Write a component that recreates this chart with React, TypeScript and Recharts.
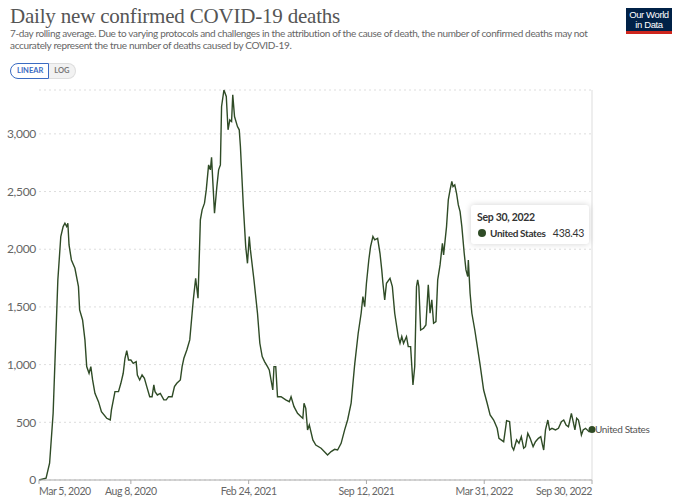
import { CartesianGrid, Line, LineChart, ReferenceDot, ReferenceLine, XAxis, YAxis } from "recharts"

// days counted from Mar 5, 2020
const dayOffsets = [
  0, 12, 18, 24, 28, 32, 37, 41, 44, 47, 49, 51, 55, 61, 67, 69, 74, 78, 81, 85, 88, 91, 95, 101, 106, 115, 121, 123,
  129, 135, 139, 143, 146, 149, 152, 156, 160, 165, 167, 171, 175, 179, 183, 188, 192, 195, 197, 201, 206, 212, 216,
  220, 226, 230, 234, 240, 243, 246, 251, 256, 260, 262, 266, 270, 272, 274, 277, 281, 284, 288, 291, 293, 295, 298,
  302, 305, 308, 310, 314, 318, 321, 324, 327, 329, 332, 337, 340, 342, 347, 351, 354, 357, 359, 365, 371, 375, 379,
  383, 388, 391, 397, 399, 402, 405, 411, 419, 425, 428, 433, 439, 445, 448, 450, 453, 456, 459, 465, 470, 479, 490,
  496, 502, 507, 513, 519, 524, 530, 536, 542, 547, 550, 553, 556, 560, 563, 567, 570, 575, 579, 582, 584, 587, 590,
  596, 600, 604, 610, 613, 616, 619, 624, 627, 631, 635, 638, 641, 643, 645, 648, 653, 657, 661, 664, 667, 670, 674,
  677, 681, 685, 687, 692, 695, 698, 701, 703, 706, 709, 712, 715, 718, 722, 725, 728, 729, 732, 735, 740, 743, 749,
  755, 761, 766, 772, 778, 781, 789, 794, 799, 803, 806, 811, 815, 819, 823, 826, 830, 834, 839, 843, 848, 852, 855,
  857, 860, 864, 867, 871, 877, 882, 887, 891, 895, 899, 904, 907, 910, 913, 916, 919, 921, 924, 928, 934, 939,
]

const usDeaths = [
  0, 15, 145, 578, 1156, 1734, 2110, 2196, 2225, 2196, 2225, 2037, 1907, 1835, 1676, 1474, 1387, 1214, 983, 925, 983,
  867, 751, 679, 592, 535, 520, 607, 766, 766, 838, 925, 1055, 1121, 1040, 1040, 1011, 1026, 910, 867, 910, 881, 809,
  722, 722, 824, 766, 737, 751, 694, 694, 722, 722, 809, 838, 867, 983, 1055, 1127, 1214, 1445, 1561, 1748, 1575, 1907,
  2254, 2341, 2399, 2514, 2731, 2688, 2797, 2601, 2312, 2543, 2688, 2731, 3237, 3380, 3324, 3035, 3121, 3107, 3338,
  3150, 3063, 3035, 2890, 2370, 2023, 1878, 2110, 1994, 1734, 1445, 1185, 1069, 1026, 983, 954, 780, 983, 983, 722,
  722, 694, 679, 722, 636, 578, 549, 535, 665, 621, 434, 477, 347, 303, 275, 217, 246, 266, 260, 318, 434, 520, 665,
  1000, 1272, 1445, 1590, 1503, 1705, 1907, 2023, 2110, 2081, 2095, 1965, 1821, 1705, 1561, 1705, 1748, 1676, 1445,
  1243, 1185, 1243, 1185, 1243, 1156, 1156, 824, 983, 1676, 1734, 1676, 1300, 1315, 1344, 1691, 1445, 1561, 1358,
  1373, 1734, 1864, 2052, 1951, 2196, 2428, 2514, 2587, 2543, 2558, 2485, 2384, 2326, 2196, 1965, 1821, 1763, 1907,
  1618, 1445, 1300, 1200, 997, 780, 665, 564, 520, 448, 361, 332, 514, 506, 289, 260, 347, 318, 376, 275, 289, 405,
  361, 289, 332, 361, 376, 303, 260, 434, 520, 434, 448, 434, 448, 506, 520, 477, 462, 578, 506, 434, 535, 520, 448,
  390, 434, 448, 419, 438.43,
]

const xTickDays = [0, 156, 356, 556, 756, 939]
const xTickLabels = ["Mar 5, 2020", "Aug 8, 2020", "Feb 24, 2021", "Sep 12, 2021", "Mar 31, 2022", "Sep 30, 2022"]
const yTicks = [0, 500, 1000, 1500, 2000, 2500, 3000]

const data = dayOffsets.map((day, i) => ({ day, deaths: usDeaths[i] }))

const lineColor = "#2f4b26"
const font = "Lato, 'Noto Sans', sans-serif"

const XTick = (props: any) => {
  const { x, y, payload, index } = props
  const last = xTickDays.length - 1
  const anchor = index === 0 ? "start" : index === last ? "end" : "middle"
  const label = xTickLabels[xTickDays.indexOf(payload.value)]
  return (
    <text x={x} y={y + 9} textAnchor={anchor} fill="#666" fontSize={10.5} letterSpacing={-0.45} fontFamily={font}>
      {label}
    </text>
  )
}

const EndLabel = (props: any) => {
  const { viewBox } = props
  const cx = viewBox.x + viewBox.width / 2
  const cy = viewBox.y + viewBox.height / 2
  return (
    <text x={cx + 3} y={cy + 3.5} fill="#555" fontSize={10} letterSpacing={-0.35} fontFamily={font}>
      United States
    </text>
  )
}

export default function App() {
  return (
    <div style={{ position: "absolute", left: 0, top: 0, width: 680, height: 499, background: "#fff", fontFamily: font }}>
      <div style={{ position: "absolute", left: 10, top: 4, fontFamily: "'Liberation Serif', 'DejaVu Serif', serif", fontSize: 21, lineHeight: "24px", color: "#555", letterSpacing: -0.2, whiteSpace: "nowrap" }}>
        Daily new confirmed COVID-19 deaths
      </div>
      <div style={{ position: "absolute", left: 10, top: 28, fontSize: 10, lineHeight: "11.5px", color: "#666", letterSpacing: -0.34, whiteSpace: "nowrap" }}>
        7-day rolling average. Due to varying protocols and challenges in the attribution of the cause of death, the number of confirmed deaths may not
        <br />
        accurately represent the true number of deaths caused by COVID-19.
      </div>

      <div style={{ position: "absolute", left: 10, top: 63, display: "flex", fontSize: 7.5, fontWeight: 700, height: 16 }}>
        <div style={{ border: "1px solid #3b6bc2", borderRadius: "8px 0 0 8px", color: "#3b6bc2", padding: "0 5px 0 6px", lineHeight: "14px" }}>LINEAR</div>
        <div style={{ border: "1px solid #ddd", borderLeft: "none", borderRadius: "0 8px 8px 0", color: "#777", padding: "0 6px 0 5px", lineHeight: "14px", background: "#f2f2f2" }}>LOG</div>
      </div>

      <div style={{ position: "absolute", left: 626, top: 8, width: 46, height: 26, background: "#002147", borderBottom: "3px solid #ce261e", boxSizing: "border-box", color: "#fff", fontSize: 9.5, lineHeight: "10px", textAlign: "center", letterSpacing: -0.4, paddingTop: 2, fontFamily: "'Liberation Sans Narrow', 'Liberation Sans', sans-serif" }}>
        Our World<br />in Data
      </div>

      <div style={{ position: "absolute", left: 0, top: 0 }}>
        <LineChart width={680} height={499} data={data} margin={{ top: 90, right: 88, bottom: 0, left: 0 }}>
          <CartesianGrid vertical={false} stroke="#ddd" strokeDasharray="2 3" />
          <XAxis
            dataKey="day"
            type="number"
            domain={[0, 939]}
            ticks={xTickDays}
            tick={<XTick />}
            interval={0}
            height={19}
            stroke="#aaa"
            tickSize={4}
          />
          <YAxis
            type="number"
            domain={[0, 3380]}
            ticks={yTicks}
            width={39}
            axisLine={false}
            tickLine={false}
            tickSize={0}
            tickMargin={3}
            tick={{ fill: "#666", fontSize: 12, fontFamily: font, letterSpacing: -0.3 }}
            tickFormatter={(v: number) => v.toLocaleString("en-US")}
          />
          <ReferenceLine x={939} stroke="#ddd" />
          <Line type="linear" dataKey="deaths" stroke={lineColor} strokeWidth={1.4} dot={false} isAnimationActive={false} />
          <ReferenceDot x={939} y={438.43} r={3.5} fill={lineColor} stroke="none" label={<EndLabel />} />
        </LineChart>
      </div>

      <div style={{ position: "absolute", left: 471, top: 205, width: 118, height: 39, background: "#fff", borderRadius: 3, boxShadow: "0 0 6px rgba(0,0,0,0.18)", boxSizing: "border-box", padding: "6px 5px 0 6px", fontSize: 10.5, letterSpacing: -0.3, color: "#333", whiteSpace: "nowrap" }}>
        <div style={{ fontWeight: 700, marginBottom: 4 }}>Sep 30, 2022</div>
        <div style={{ display: "flex", alignItems: "center" }}>
          <span style={{ width: 8, height: 8, borderRadius: 4, background: lineColor, marginRight: 4, marginLeft: 1 }} />
          <span style={{ fontWeight: 700, flex: 1, fontSize: 10, letterSpacing: -0.35 }}>United States</span>
          <span>438.43</span>
        </div>
      </div>
    </div>
  )
}
